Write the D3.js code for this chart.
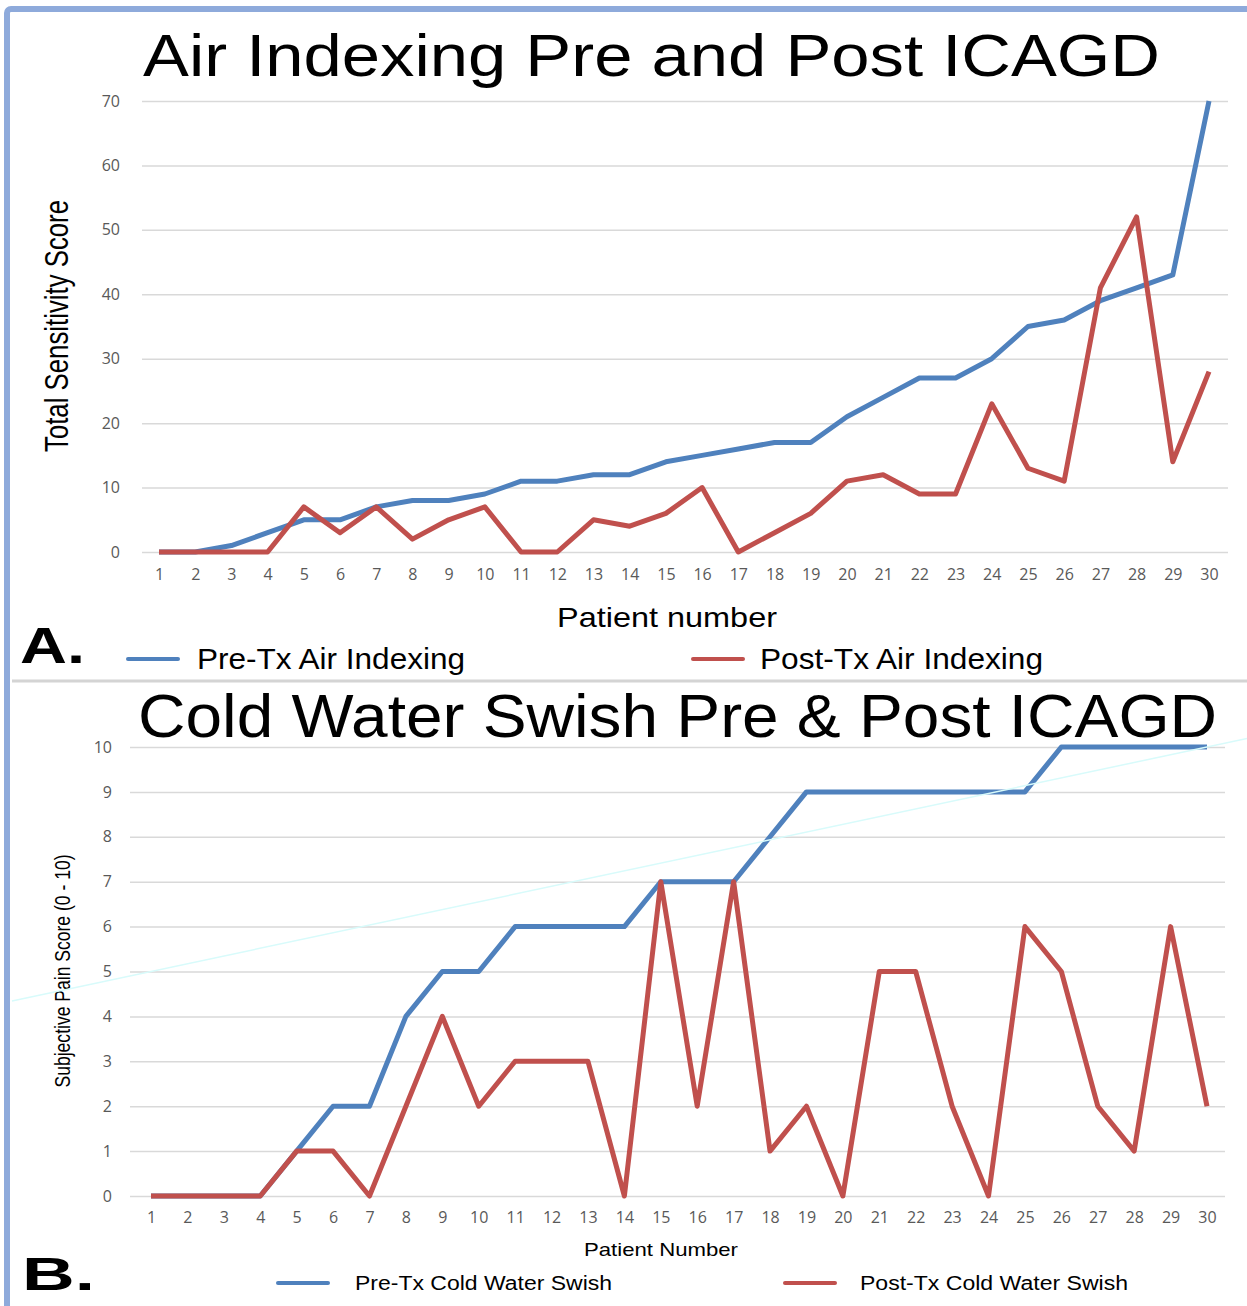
<!DOCTYPE html>
<html>
<head>
<meta charset="utf-8">
<script src="https://cdn.jsdelivr.net/npm/d3@7"></script>
<style>
  body { margin: 0; background: #fff; }
  svg { display: block; }
  .tick text { font-family: "Open Sans", sans-serif; fill: #595959; }
</style>
</head>
<body>
<div id="chart"></div>
<script>
const patients = d3.range(1, 31);

// Panel A
const preAir = [0, 0, 1, 3, 5, 5, 7, 8, 8, 9, 11, 11, 12, 12, 14, 15, 16, 17, 17, 21, 24, 27, 27, 30, 35, 36, 39, 41, 43, 70];
const postAir = [0, 0, 0, 0, 7, 3, 7, 2, 5, 7, 0, 0, 5, 4, 6, 10, 0, 3, 6, 11, 12, 9, 9, 23, 13, 11, 41, 52, 14, 28];
const airTicks = [0, 10, 20, 30, 40, 50, 60, 70];

// Panel B
const preCold = [0, 0, 0, 0, 1, 2, 2, 4, 5, 5, 6, 6, 6, 6, 7, 7, 7, 8, 9, 9, 9, 9, 9, 9, 9, 10, 10, 10, 10, 10];
const postCold = [0, 0, 0, 0, 1, 1, 0, 2, 4, 2, 3, 3, 3, 0, 7, 2, 7, 1, 2, 0, 5, 5, 2, 0, 6, 5, 2, 1, 6, 2];
const coldTicks = d3.range(0, 11);
// faint straight line drawn across panel B: value at patient 1 and at patient 30
const trendStart = [1, 5];
const trendEnd = [30, 10];

const width = 1247;
const height = 1306;
const blue = '#4f81bd';
const red = '#c0504d';

const svg = d3.select('#chart').append('svg')
  .attr('width', width)
  .attr('height', height);

drawFrame(svg);

drawPanel(svg, {
  title: 'Air Indexing Pre and Post ICAGD',
  titleBox: { x: 143, y: 76, w: 1017, size: 60 },
  yTitle: 'Total Sensitivity Score',
  yTitleBox: { x: 68, cy: 326, len: 252, size: 34 },
  xTitle: 'Patient number',
  xTitleBox: { cx: 667, y: 627, len: 220, size: 28 },
  letter: 'A.',
  letterBox: { x: 20, y: 663, w: 65, size: 50 },
  legend: [
    { name: 'Pre-Tx Air Indexing', color: blue, x1: 128, x2: 178, tx: 197, len: 268 },
    { name: 'Post-Tx Air Indexing', color: red, x1: 693, x2: 743, tx: 760, len: 283 }
  ],
  legendY: 659, legendSize: 29,
  xRange: [159, 1209], yRange: [552, 101], yMax: 70,
  gridX: [142, 1228], ticks: airTicks, yPad: 22, xPad: 17, tickSize: 16,
  series: [{ values: preAir, color: blue }, { values: postAir, color: red }]
});

const bottom = drawPanel(svg, {
  title: 'Cold Water Swish Pre & Post ICAGD',
  titleBox: { x: 138, y: 737, w: 1079, size: 61 },
  yTitle: 'Subjective Pain Score (0 - 10)',
  yTitleBox: { x: 70, cy: 971, len: 233, size: 22 },
  xTitle: 'Patient Number',
  xTitleBox: { cx: 661, y: 1256, len: 154, size: 19 },
  letter: 'B.',
  letterBox: { x: 22, y: 1290, w: 73, size: 47 },
  legend: [
    { name: 'Pre-Tx Cold Water Swish', color: blue, x1: 278, x2: 328, tx: 355, len: 257 },
    { name: 'Post-Tx Cold Water Swish', color: red, x1: 785, x2: 835, tx: 860, len: 268 }
  ],
  legendY: 1283, legendSize: 20,
  xRange: [151, 1207], yRange: [1196, 747], yMax: 10,
  gridX: [130, 1225], ticks: coldTicks, yPad: 18, xPad: 16, tickSize: 16,
  series: [{ values: preCold, color: blue }, { values: postCold, color: red }]
});

drawTrend(svg, bottom.x, bottom.y);

function drawFrame(svg) {
  svg.append('rect')
    .attr('x', 7).attr('y', 9)
    .attr('width', width + 20).attr('height', height + 20)
    .attr('rx', 4)
    .attr('fill', 'none')
    .attr('stroke', '#8eaadb')
    .attr('stroke-width', 6);

  svg.append('line')
    .attr('x1', 12).attr('x2', width)
    .attr('y1', 681).attr('y2', 681)
    .attr('stroke', '#d4d4d4')
    .attr('stroke-width', 3);
}

function drawPanel(svg, c) {
  const x = d3.scaleLinear().domain([1, 30]).range(c.xRange);
  const y = d3.scaleLinear().domain([0, c.yMax]).range(c.yRange);

  // title
  svg.append('text')
    .attr('x', c.titleBox.x).attr('y', c.titleBox.y)
    .attr('font-family', 'Liberation Sans, Arial, sans-serif')
    .attr('font-size', c.titleBox.size)
    .attr('textLength', c.titleBox.w)
    .attr('lengthAdjust', 'spacingAndGlyphs')
    .attr('fill', '#000')
    .text(c.title);

  // gridlines + y labels
  const yAxis = svg.append('g')
    .attr('transform', `translate(${c.gridX[0]},0)`)
    .call(d3.axisLeft(y).tickValues(c.ticks).tickSize(-(c.gridX[1] - c.gridX[0])).tickPadding(c.yPad));
  yAxis.select('.domain').remove();
  yAxis.selectAll('.tick line').attr('stroke', '#d9d9d9').attr('stroke-width', 1.5);
  yAxis.selectAll('.tick text').attr('font-size', c.tickSize);

  // x labels
  const xAxis = svg.append('g')
    .attr('transform', `translate(0,${c.yRange[0]})`)
    .call(d3.axisBottom(x).tickValues(patients).tickSize(0).tickPadding(c.xPad));
  xAxis.select('.domain').remove();
  xAxis.selectAll('.tick text').attr('font-size', c.tickSize);

  // lines
  const line = d3.line()
    .x((d, i) => x(patients[i]))
    .y(d => y(d));

  c.series.forEach(s => {
    svg.append('path')
      .datum(s.values)
      .attr('fill', 'none')
      .attr('stroke', s.color)
      .attr('stroke-width', 5)
      .attr('stroke-linejoin', 'round')
      .attr('d', line);
  });

  // axis titles
  svg.append('text')
    .attr('transform', `translate(${c.yTitleBox.x},${c.yTitleBox.cy}) rotate(-90)`)
    .attr('text-anchor', 'middle')
    .attr('font-family', 'Liberation Sans, Arial, sans-serif')
    .attr('font-size', c.yTitleBox.size)
    .attr('textLength', c.yTitleBox.len)
    .attr('lengthAdjust', 'spacingAndGlyphs')
    .text(c.yTitle);

  svg.append('text')
    .attr('x', c.xTitleBox.cx).attr('y', c.xTitleBox.y)
    .attr('text-anchor', 'middle')
    .attr('font-family', 'Liberation Sans, Arial, sans-serif')
    .attr('font-size', c.xTitleBox.size)
    .attr('textLength', c.xTitleBox.len)
    .attr('lengthAdjust', 'spacingAndGlyphs')
    .text(c.xTitle);

  // panel letter
  svg.append('text')
    .attr('x', c.letterBox.x).attr('y', c.letterBox.y)
    .attr('font-family', 'Liberation Sans, Arial, sans-serif')
    .attr('font-weight', 'bold')
    .attr('font-size', c.letterBox.size)
    .attr('textLength', c.letterBox.w)
    .attr('lengthAdjust', 'spacingAndGlyphs')
    .text(c.letter);

  // legend
  const items = svg.selectAll(null)
    .data(c.legend)
    .enter().append('g');

  items.append('line')
    .attr('x1', d => d.x1).attr('x2', d => d.x2)
    .attr('y1', c.legendY).attr('y2', c.legendY)
    .attr('stroke', d => d.color)
    .attr('stroke-width', 4)
    .attr('stroke-linecap', 'round');

  items.append('text')
    .attr('x', d => d.tx)
    .attr('y', c.legendY)
    .attr('dy', '0.36em')
    .attr('font-family', 'Liberation Sans, Arial, sans-serif')
    .attr('font-size', c.legendSize)
    .attr('textLength', d => d.len)
    .attr('lengthAdjust', 'spacingAndGlyphs')
    .text(d => d.name);

  return { x, y };
}

function drawTrend(svg, x, y) {
  const slope = (trendEnd[1] - trendStart[1]) / (trendEnd[0] - trendStart[0]);
  const p0 = x.invert(12);
  const p1 = x.invert(width);
  svg.append('line')
    .attr('x1', x(p0)).attr('y1', y(trendStart[1] + slope * (p0 - trendStart[0])))
    .attr('x2', x(p1)).attr('y2', y(trendStart[1] + slope * (p1 - trendStart[0])))
    .attr('stroke', '#d8fbfb')
    .attr('stroke-width', 1.5);
}
</script>
</body>
</html>
